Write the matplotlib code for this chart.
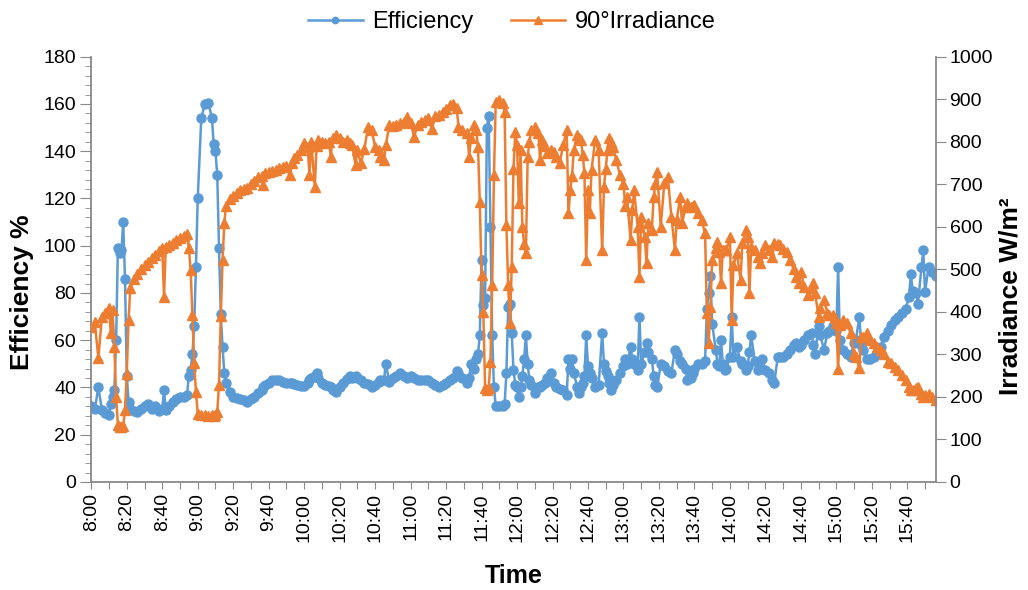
import matplotlib
matplotlib.use('Agg')
import matplotlib.pyplot as plt
from matplotlib.ticker import MultipleLocator

plt.rcParams['font.family'] = ['Liberation Sans', 'DejaVu Sans']

# minutes after 8:00
minutes = [0, 2, 4, 6, 8, 10, 11, 12, 13, 14,
           15, 16, 17, 18, 19, 20, 21, 22, 24, 26,
           28, 30, 32, 34, 36, 38, 40, 41, 42, 44,
           46, 48, 50, 52, 54, 55, 56, 57, 58, 59,
           60, 62, 64, 66, 68, 69, 70, 71, 72, 73,
           74, 75, 76, 78, 80, 82, 84, 86, 88, 90,
           92, 94, 96, 97, 98, 100, 102, 104, 106, 108,
           110, 112, 113, 114, 116, 118, 120, 122, 123, 124,
           126, 127, 128, 130, 132, 134, 135, 136, 138, 140,
           142, 144, 146, 147, 149, 150, 152, 154, 156, 158,
           160, 162, 163, 165, 166, 168, 170, 172, 174, 176,
           178, 180, 182, 184, 186, 188, 190, 192, 194, 196,
           198, 200, 202, 204, 206, 207, 209, 212, 213, 214,
           216, 217, 218, 219, 220, 221, 222, 223, 224, 225,
           226, 227, 228, 230, 232, 233, 234, 235, 236, 237,
           238, 239, 240, 241, 242, 243, 244, 245, 246, 247,
           248, 250, 252, 253, 254, 256, 257, 259, 261, 262,
           264, 266, 268, 269, 270, 271, 272, 274, 275, 276,
           277, 278, 279, 280, 281, 282, 284, 286, 288, 289,
           290, 291, 292, 293, 294, 296, 298, 300, 301, 302,
           304, 305, 306, 308, 309, 310, 312, 313, 314, 316,
           317, 318, 319, 321, 323, 325, 327, 329, 330, 332,
           333, 335, 336, 338, 339, 340, 342, 344, 346, 347,
           348, 349, 350, 352, 353, 354, 355, 356, 357, 358,
           360, 361, 362, 364, 366, 367, 369, 370, 371, 372,
           374, 376, 377, 378, 380, 382, 384, 385, 387, 388,
           390, 392, 394, 396, 397, 399, 400, 402, 404, 406,
           407, 408, 410, 411, 413, 415, 416, 418, 419, 420,
           421, 422, 424, 426, 428, 430, 431, 433, 434, 435,
           437, 439, 441, 443, 445, 447, 449, 451, 453, 455,
           457, 459, 461, 462, 463, 465, 466, 468, 469, 470,
           472, 474, 476]

efficiency = [32, 31, 40, 30.5, 29, 28.5, 33, 36, 39, 60,
              99, 97, 98, 110, 86, 45, 34, 31, 30, 29.5,
              31, 32, 33, 31, 32, 30, 31, 39, 30.5, 32,
              34, 35, 36, 36, 37, 45, 47.5, 54, 66, 91,
              120, 154, 160, 160.5, 154, 143, 140, 130, 99, 71,
              57, 46, 42, 38, 36, 35.5, 35, 34.5, 34, 35,
              36, 37.5, 39, 40, 41, 42, 43, 43, 43, 42.5,
              42, 42, 42, 41.5, 41, 40.5, 40.5, 42, 43, 44,
              45, 46, 44, 42, 41, 40.5, 40, 39, 38, 40,
              42, 43.5, 45, 44, 45, 44, 43, 42, 41.5, 40,
              41, 42.5, 43, 43, 50, 42.5, 44, 45, 46, 45,
              44, 45, 44, 43, 43, 43, 43, 42, 41, 40,
              41, 42, 43, 44, 47, 46, 44, 42, 44, 50,
              48, 52, 54, 62, 94, 75, 78, 150, 155, 108,
              62, 40, 32, 32, 32, 33, 46, 74, 75.5, 63,
              47.5, 41, 40, 36, 40, 45, 52, 62, 50, 43,
              41, 37.5, 40, 40, 41, 42, 44, 46, 42, 40,
              39.5, 39, 37, 52, 48, 52, 46, 40, 37.5, 40,
              42, 45, 62, 49, 46, 44, 40, 41, 63, 50,
              47, 45, 42, 39, 41, 43, 46, 49, 52, 50,
              57, 52, 50, 47.5, 70, 50, 55, 59, 55, 52,
              45, 41, 40, 50, 49, 47, 46, 56, 54, 51,
              50, 48, 43, 44, 46, 48, 50, 50, 51, 73,
              80, 87, 67, 56, 50, 49, 60, 50, 47.5, 48,
              53, 70, 53, 57, 51, 50, 47.5, 49, 55, 62,
              51, 47.5, 48, 52, 47.5, 46, 43, 42, 53, 53,
              53, 54, 56, 58, 59, 57, 58, 60, 62, 63,
              58, 54, 66, 62, 56, 63, 64, 66, 68, 64,
              91, 60, 56, 54, 53, 59, 60, 70, 58, 56,
              52, 52, 53, 54.5, 57, 61.5, 64, 66.5, 68.5, 70,
              71.5, 73, 78.5, 88, 81, 80, 75.5, 91, 98, 80.5,
              91, 89, 87]

irradiance = [365, 375, 291, 389, 397, 408, 350, 404, 318, 200,
              135, 130, 130, 132, 169, 255, 381, 455, 478, 490,
              500, 510, 518, 526, 534, 543, 549, 436, 552, 557,
              563, 568, 573, 578, 583, 549, 498, 393, 279, 212,
              161, 157, 157, 156, 157, 156, 158, 165, 228, 390,
              522, 610, 650, 665, 672, 680, 686, 690, 692, 700,
              708, 716, 720, 698, 726, 728, 731, 734, 738, 741,
              744, 722, 750, 762, 770, 780, 798, 788, 722, 800,
              694, 790, 804, 800, 796, 800, 765, 810, 816, 808,
              800, 804, 798, 792, 745, 780, 749, 784, 835, 827,
              788, 780, 765, 757, 792, 839, 836, 839, 843, 847,
              859, 845, 812, 840, 847, 850, 855, 831, 860, 863,
              870, 878, 886, 888, 880, 835, 827, 820, 765, 808,
              839, 827, 788, 659, 487, 400, 220, 216, 220, 283,
              463, 722, 894, 898, 890, 871, 604, 463, 373, 506,
              737, 824, 792, 655, 780, 600, 560, 538, 765, 800,
              827, 835, 820, 757, 804, 790, 773, 780, 775, 765,
              749, 792, 827, 632, 686, 720, 780, 816, 810, 804,
              770, 726, 522, 686, 632, 733, 804, 780, 545, 694,
              737, 780, 808, 800, 788, 757, 722, 700, 650, 671,
              569, 640, 686, 600, 483, 624, 577, 514, 608, 592,
              671, 700, 730, 600, 702, 718, 624, 545, 616, 671,
              608, 647, 655, 647, 650, 651, 632, 616, 585, 397,
              326, 412, 522, 549, 565, 540, 467, 545, 545, 545,
              577, 381, 510, 538, 475, 561, 592, 577, 444, 553,
              545, 530, 514, 538, 557, 545, 530, 561, 559, 557,
              548, 540, 522, 500, 483, 467, 494, 459, 440, 455,
              467, 444, 389, 410, 428, 397, 392, 393, 385, 373,
              265, 370, 381, 373, 350, 300, 295, 267, 342, 342,
              350, 334, 326, 318, 310, 302, 283, 279, 271, 263,
              252, 240, 224, 216, 216, 220, 224, 208, 200, 205,
              208, 200, 193]

blue = '#5B9BD5'
orange = '#ED7D31'
gray = '#898989'

fig = plt.figure(figsize=(10.28, 5.9), dpi=100)
ax = fig.add_axes([0.0888, 0.1831, 0.8214, 0.7208])
ax2 = ax.twinx()

l1, = ax.plot(minutes, efficiency, color=blue, marker='o', ms=6.5, lw=1.8,
              label='Efficiency')
l2, = ax2.plot(minutes, irradiance, color=orange, marker='^', ms=7.5, lw=1.8,
               label='90°Irradiance')

# x axis (time)
ax.set_xlim(0, 476)
xt = list(range(0, 471, 10))
ax.set_xticks(xt)
ax.set_xticklabels([f'{8 + m // 60}:{m % 60:02d}' if m % 20 == 0 else '' for m in xt],
                   rotation=90)
ax.tick_params(axis='x', direction='out', length=5, color=gray, labelsize=14, pad=3)

# left axis
ax.set_ylim(0, 180)
ax.set_yticks(range(0, 181, 20))
ax.yaxis.set_minor_locator(MultipleLocator(4))
ax.tick_params(axis='y', which='major', direction='out', length=8, color=gray, labelsize=14, pad=3)
ax.tick_params(axis='y', which='minor', direction='out', length=4, color=gray)

# right axis
ax2.set_ylim(0, 1000)
ax2.set_yticks(range(0, 1001, 100))
ax2.tick_params(axis='y', direction='out', length=7, color=gray, labelsize=14, pad=3)

for a in (ax, ax2):
    a.spines['top'].set_visible(False)
    for s in ('left', 'right', 'bottom'):
        a.spines[s].set_color(gray)
        a.spines[s].set_linewidth(1.3)
ax.spines['right'].set_visible(False)
ax2.spines['left'].set_visible(False)
ax2.spines['bottom'].set_visible(False)

fig.text(22 / 1028, 1 - 292 / 590, 'Efficiency %', rotation=90, ha='center', va='center',
         fontsize=19, fontweight='bold')
fig.text(1011 / 1028, 1 - 296 / 590, 'Irradiance W/m²', rotation=90, ha='center', va='center',
         fontsize=19, fontweight='bold')
fig.text(514 / 1028, 1 - 576 / 590, 'Time', ha='center', va='center',
         fontsize=18, fontweight='bold')

fig.legend(handles=[l1, l2], loc='center', bbox_to_anchor=(512 / 1028, 1 - 22 / 590),
           ncol=2, frameon=False, fontsize=17, handlelength=2.3, handletextpad=0.4,
           columnspacing=1.6, markerscale=0.7)

fig.savefig('out.png', dpi=100)
